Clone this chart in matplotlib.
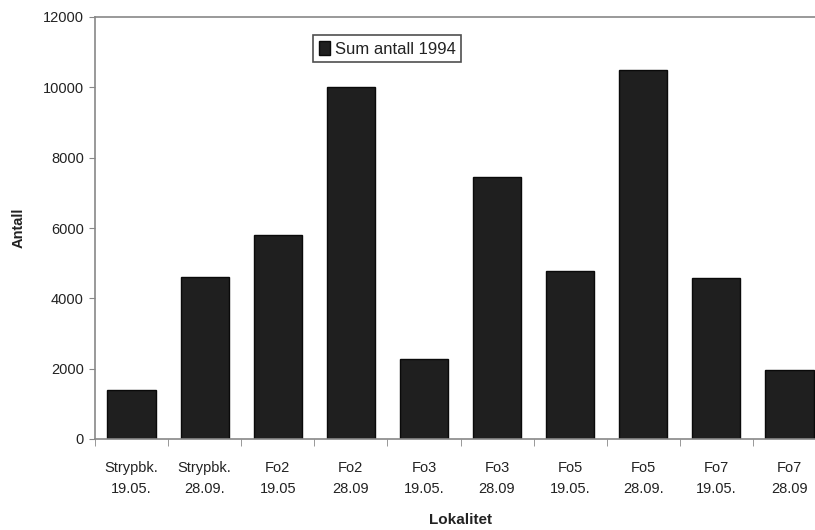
import numpy as np
import matplotlib
matplotlib.use("Agg")
import matplotlib.pyplot as plt

plt.rcParams["font.family"] = ["Liberation Sans", "DejaVu Sans"]

# Data
sites = ["Strypbk.", "Strypbk.", "Fo2", "Fo2", "Fo3", "Fo3", "Fo5", "Fo5", "Fo7", "Fo7"]
dates = ["19.05.", "28.09.", "19.05", "28.09", "19.05.", "28.09", "19.05.", "28.09.", "19.05.", "28.09"]
counts = [1380, 4600, 5800, 10000, 2280, 7460, 4780, 10500, 4590, 1960]

labels = [f"{s}\n{d}" for s, d in zip(sites, dates)]
x = np.arange(len(counts))

fig = plt.figure(figsize=(8.15, 5.30), dpi=100)
ax = fig.add_axes([95 / 815, 1 - 439 / 530, 731 / 815, 422 / 530])

ax.bar(x, counts, width=0.66, color="#1f1f1f", edgecolor="#0a0a0a",
       linewidth=1.0, label="Sum antall 1994")

ax.set_xlim(-0.5, len(counts) - 0.5)
ax.set_ylim(0, 12000)
ax.set_yticks(np.arange(0, 12001, 2000))
ax.set_xticks(x)
ax.set_xticklabels(labels, fontsize=10.5, color="#222222", linespacing=1.65)
ax.set_xticks(np.arange(-0.5, len(counts), 1), minor=True)
ax.tick_params(axis="x", which="major", length=0, pad=16)
ax.tick_params(axis="x", which="minor", length=5, color="#888888", direction="out")
ax.tick_params(axis="y", labelsize=10.5, labelcolor="#222222", length=4,
               color="#888888", direction="out", pad=4)

for side in ["left", "bottom", "top"]:
    ax.spines[side].set_color("#888888")
    ax.spines[side].set_linewidth(1.2)
ax.spines["right"].set_visible(False)

ax.set_ylabel("Antall", fontsize=10.5, fontweight="bold", color="#222222", labelpad=12)
ax.set_xlabel("Lokalitet", fontsize=11, fontweight="bold", color="#222222", labelpad=12)

leg = ax.legend(loc="upper left", bbox_to_anchor=(0.298, 0.957), borderaxespad=0,
                fontsize=12, frameon=True, fancybox=False, shadow=False,
                handlelength=0.7, handleheight=0.9, handletextpad=0.25, borderpad=0.35)
leg.get_frame().set_edgecolor("#222222")
leg.get_frame().set_linewidth(1.2)
for t in leg.get_texts():
    t.set_color("#222222")

fig.savefig("out.png", dpi=100)
